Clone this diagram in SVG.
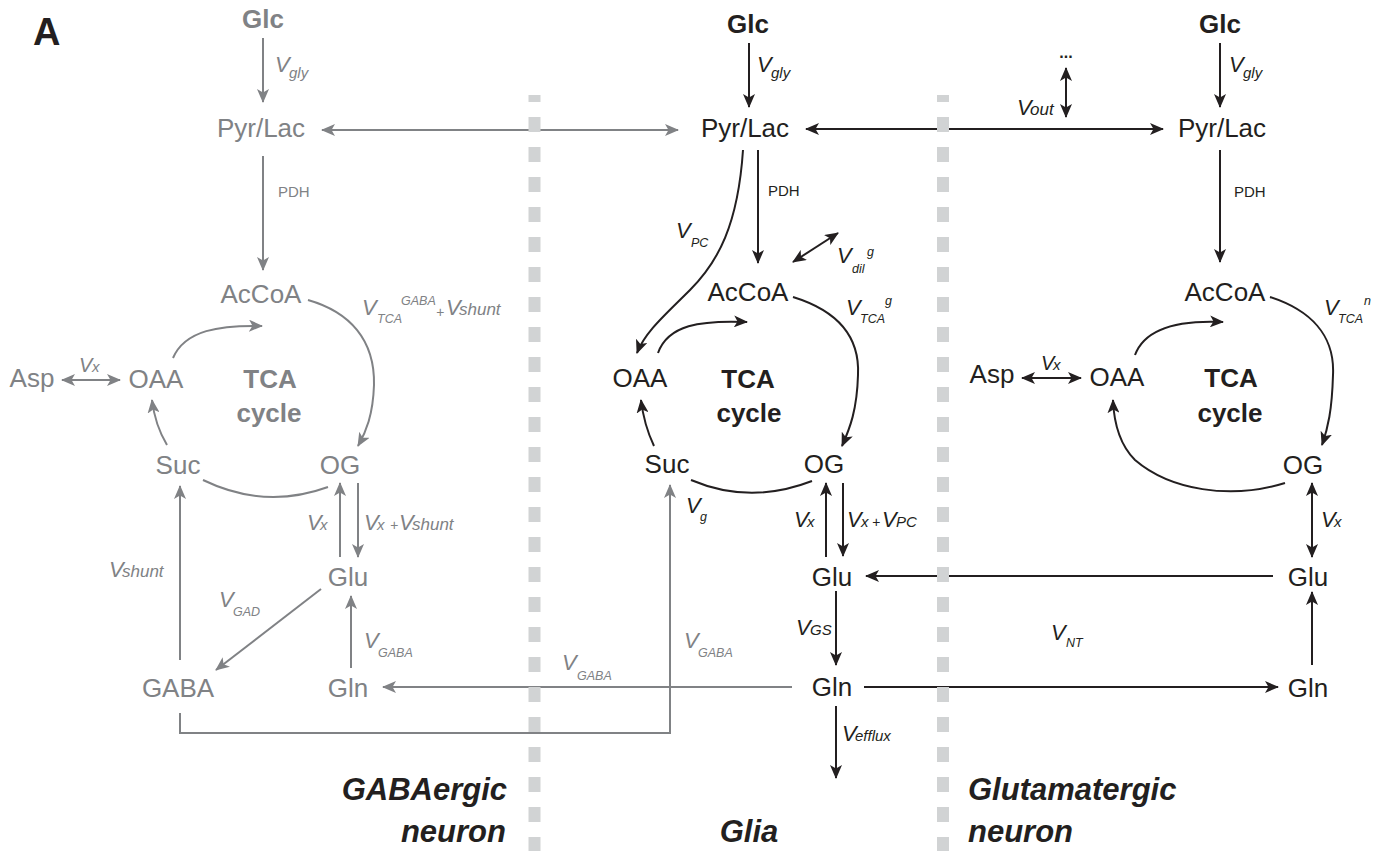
<svg xmlns="http://www.w3.org/2000/svg" width="1386" height="851" viewBox="0 0 1386 851">
<defs>
<style>
text{font-family:"Liberation Sans",Arial,sans-serif}
.n{font-size:26px;text-anchor:middle}
.b{font-weight:bold}
.g{fill:#808285}
.k{fill:#231f20}
.v{font-style:italic;font-size:22px}
.s{font-size:15px}
.ss{font-size:12.5px}
.pdh{font-size:15px}
.h{font-size:31px;font-weight:bold;font-style:italic;fill:#231f20}
.lg{fill:none;stroke:#808285;stroke-width:2}
.lk{fill:none;stroke:#231f20;stroke-width:2}
.dash{stroke:#d1d3d4;stroke-width:12;stroke-dasharray:15 15;stroke-dashoffset:8}
</style>
<marker id="ag" viewBox="0 0 14 12" refX="13" refY="6" markerWidth="14" markerHeight="12" markerUnits="userSpaceOnUse" orient="auto-start-reverse"><path d="M0,0 L14,6 L0,12 L3.5,6 Z" fill="#808285"/></marker>
<marker id="ak" viewBox="0 0 14 12" refX="13" refY="6" markerWidth="14" markerHeight="12" markerUnits="userSpaceOnUse" orient="auto-start-reverse"><path d="M0,0 L14,6 L0,12 L3.5,6 Z" fill="#231f20"/></marker>
</defs>
<rect width="1386" height="851" fill="#ffffff"/>
<text x="33" y="45" font-size="38" font-weight="bold" fill="#231f20">A</text>

<g id="connectors">
<!-- gray -->
<path class="lg" d="M263,38 V102" marker-end="url(#ag)"/>
<path class="lg" d="M322,130 H678" marker-start="url(#ag)" marker-end="url(#ag)"/>
<path class="lg" d="M263,156 V270" marker-end="url(#ag)"/>
<path class="lg" d="M308,300 C350,312 375,340 374,385 C373,415 366,432 358,446" marker-end="url(#ag)"/>
<path class="lg" d="M173,358 C185,330 220,325 262,326" marker-end="url(#ag)"/>
<path class="lg" d="M62,380 H120" marker-start="url(#ag)" marker-end="url(#ag)"/>
<path class="lg" d="M167,445 Q155,425 152,400" marker-end="url(#ag)"/>
<path class="lg" d="M328,487 Q265,510 203,480"/>
<path class="lg" d="M340,557 V483" marker-end="url(#ag)"/>
<path class="lg" d="M358,483 V557" marker-end="url(#ag)"/>
<path class="lg" d="M321,589 L216,670" marker-end="url(#ag)"/>
<path class="lg" d="M351,668 V596" marker-end="url(#ag)"/>
<path class="lg" d="M180,660 V486" marker-end="url(#ag)"/>
<path class="lg" d="M792,687 H383" marker-end="url(#ag)"/>
<path class="lg" d="M180,713 V733 H670 V485" marker-end="url(#ag)"/>
<!-- black -->
<path class="lk" d="M749,43 V107" marker-end="url(#ak)"/>
<path class="lk" d="M806,129 H1163" marker-start="url(#ak)" marker-end="url(#ak)"/>
<path class="lk" d="M1066,68 V117" marker-start="url(#ak)" marker-end="url(#ak)"/>
<path class="lk" d="M758,150 V263" marker-end="url(#ak)"/>
<path class="lk" d="M743,150 C738,225 718,262 690,290 C665,315 645,332 637,353" marker-end="url(#ak)"/>
<path class="lk" d="M793,262 L838,233" marker-start="url(#ak)" marker-end="url(#ak)"/>
<path class="lk" d="M793,297 C835,310 860,335 858,375 C857,410 850,428 842,446" marker-end="url(#ak)"/>
<path class="lk" d="M658,353 C668,325 700,320 747,322" marker-end="url(#ak)"/>
<path class="lk" d="M654,446 Q644,425 641,400" marker-end="url(#ak)"/>
<path class="lk" d="M812,481 Q750,505 691,480"/>
<path class="lk" d="M826,557 V483" marker-end="url(#ak)"/>
<path class="lk" d="M843,483 V556" marker-end="url(#ak)"/>
<path class="lk" d="M1273,576 H866" marker-end="url(#ak)"/>
<path class="lk" d="M836,591 V665" marker-end="url(#ak)"/>
<path class="lk" d="M864,687 H1278" marker-end="url(#ak)"/>
<path class="lk" d="M836,706 V778" marker-end="url(#ak)"/>
<path class="lk" d="M1220,43 V107" marker-end="url(#ak)"/>
<path class="lk" d="M1220,150 V262" marker-end="url(#ak)"/>
<path class="lk" d="M1270,297 C1310,310 1335,335 1333,375 C1332,410 1328,428 1322,445" marker-end="url(#ak)"/>
<path class="lk" d="M1135,355 C1145,328 1180,320 1223,322" marker-end="url(#ak)"/>
<path class="lk" d="M1022,378 H1081" marker-start="url(#ak)" marker-end="url(#ak)"/>
<path class="lk" d="M1285,483 C1230,500 1170,490 1135,460 C1120,445 1114,425 1113,400" marker-end="url(#ak)"/>
<path class="lk" d="M1312,483 V557" marker-start="url(#ak)" marker-end="url(#ak)"/>
<path class="lk" d="M1312,665 V592" marker-end="url(#ak)"/>
</g>

<g id="dividers">
<line class="dash" x1="534.5" y1="95" x2="534.5" y2="851"/>
<line class="dash" x1="943" y1="95" x2="943" y2="851"/>
</g>

<!-- GABAergic neuron (gray) -->
<g id="gaba-glc"><text class="n b g" x="263" y="28">Glc</text></g>
<g id="gaba-pyr"><text class="n g" x="261" y="137">Pyr/Lac</text></g>
<g id="gaba-accoa"><text class="n g" x="261" y="303">AcCoA</text></g>
<g id="gaba-asp"><text class="n g" x="32" y="387">Asp</text></g>
<g id="gaba-oaa"><text class="n g" x="156" y="388">OAA</text></g>
<g id="gaba-tca"><text class="n b g" x="270" y="388" font-size="25">TCA</text><text class="n b g" x="269" y="422" font-size="25">cycle</text></g>
<g id="gaba-suc"><text class="n g" x="178" y="474">Suc</text></g>
<g id="gaba-og"><text class="n g" x="340" y="474">OG</text></g>
<g id="gaba-glu"><text class="n g" x="348" y="586">Glu</text></g>
<g id="gaba-gaba"><text class="n g" x="178" y="697">GABA</text></g>
<g id="gaba-gln"><text class="n g" x="348" y="697">Gln</text></g>

<!-- Glia -->
<g id="glia-glc"><text class="n b k" x="748" y="33">Glc</text></g>
<g id="glia-pyr"><text class="n k" x="745" y="137">Pyr/Lac</text></g>
<g id="glia-accoa"><text class="n k" x="748" y="301">AcCoA</text></g>
<g id="glia-oaa"><text class="n k" x="640" y="387">OAA</text></g>
<g id="glia-tca"><text class="n b k" x="748" y="388" font-size="25">TCA</text><text class="n b k" x="749" y="422" font-size="25">cycle</text></g>
<g id="glia-suc"><text class="n k" x="667" y="473">Suc</text></g>
<g id="glia-og"><text class="n k" x="824" y="473">OG</text></g>
<g id="glia-glu"><text class="n k" x="832" y="586">Glu</text></g>
<g id="glia-gln"><text class="n k" x="832" y="696">Gln</text></g>

<!-- Glutamatergic neuron -->
<g id="glut-glc"><text class="n b k" x="1220" y="33">Glc</text></g>
<g id="glut-pyr"><text class="n k" x="1222" y="137">Pyr/Lac</text></g>
<g id="glut-accoa"><text class="n k" x="1225" y="301">AcCoA</text></g>
<g id="glut-asp"><text class="n k" x="992" y="383">Asp</text></g>
<g id="glut-oaa"><text class="n k" x="1117" y="386">OAA</text></g>
<g id="glut-tca"><text class="n b k" x="1231" y="387" font-size="25">TCA</text><text class="n b k" x="1230" y="422" font-size="25">cycle</text></g>
<g id="glut-og"><text class="n k" x="1303" y="474">OG</text></g>
<g id="glut-glu"><text class="n k" x="1308" y="586">Glu</text></g>
<g id="glut-gln"><text class="n k" x="1308" y="697">Gln</text></g>
<g id="glut-out"><text x="1066" y="58" font-size="16" font-weight="bold" text-anchor="middle" fill="#231f20">...</text></g>

<g id="labels">
<!-- gray labels -->
<text class="v g"><tspan x="275" y="72">V</tspan><tspan class="s" x="289" y="78">gly</tspan></text>
<text class="pdh g" x="278" y="197">PDH</text>
<text class="v g"><tspan x="362" y="315">V</tspan><tspan class="ss" x="377" y="323">TCA</tspan><tspan class="ss" x="401" y="305">GABA</tspan><tspan font-size="14" x="436" y="317">+</tspan><tspan x="446" y="315">V</tspan><tspan font-size="17" x="459" y="315">shunt</tspan></text>
<text class="v g"><tspan x="79" y="372" font-size="20">V</tspan><tspan class="s" x="92" y="372">x</tspan></text>
<text class="v g"><tspan x="307" y="530">V</tspan><tspan class="s" x="320" y="530">x</tspan></text>
<text class="v g"><tspan x="364" y="530">V</tspan><tspan class="s" x="377" y="530">x</tspan><tspan font-size="14" x="390" y="530">+</tspan><tspan x="399" y="530">V</tspan><tspan font-size="17" x="412" y="530">shunt</tspan></text>
<text class="v g"><tspan x="109" y="577">V</tspan><tspan font-size="17" x="122" y="577">shunt</tspan></text>
<text class="v g"><tspan x="219" y="607">V</tspan><tspan class="ss" x="233" y="616">GAD</tspan></text>
<text class="v g"><tspan x="364" y="648">V</tspan><tspan class="ss" x="378" y="657">GABA</tspan></text>
<text class="v g"><tspan x="562" y="670">V</tspan><tspan class="ss" x="577" y="680">GABA</tspan></text>
<text class="v g"><tspan x="684" y="648">V</tspan><tspan class="ss" x="698" y="657">GABA</tspan></text>
<!-- black labels -->
<text class="v k"><tspan x="757" y="72">V</tspan><tspan class="s" x="771" y="78">gly</tspan></text>
<text class="pdh k" x="768" y="196">PDH</text>
<text class="v k"><tspan x="676" y="238">V</tspan><tspan class="ss" x="691" y="247">PC</tspan></text>
<text class="v k"><tspan x="837" y="263">V</tspan><tspan class="ss" x="852" y="273">dil</tspan><tspan class="ss" x="867" y="256">g</tspan></text>
<text class="v k"><tspan x="846" y="315">V</tspan><tspan class="ss" x="860" y="323">TCA</tspan><tspan class="ss" x="885" y="305">g</tspan></text>
<text class="v k"><tspan x="686" y="513">V</tspan><tspan class="ss" x="700" y="521">g</tspan></text>
<text class="v k"><tspan x="794" y="527">V</tspan><tspan class="s" x="807" y="527">x</tspan></text>
<text class="v k"><tspan x="847" y="527">V</tspan><tspan class="s" x="861" y="527">x</tspan><tspan font-size="14" x="872" y="527">+</tspan><tspan x="882" y="527">V</tspan><tspan class="s" x="896" y="527">PC</tspan></text>
<text class="v k"><tspan x="796" y="635">V</tspan><tspan class="s" x="810" y="635">GS</tspan></text>
<text class="v k"><tspan x="842" y="741">V</tspan><tspan class="s" x="855" y="741">efflux</tspan></text>
<text class="v k"><tspan x="1017" y="115">V</tspan><tspan font-size="17" x="1030" y="115">out</tspan></text>
<text class="v k"><tspan x="1229" y="72">V</tspan><tspan class="s" x="1243" y="78">gly</tspan></text>
<text class="pdh k" x="1234" y="197">PDH</text>
<text class="v k"><tspan x="1324" y="315">V</tspan><tspan class="ss" x="1338" y="323">TCA</tspan><tspan class="ss" x="1364" y="305">n</tspan></text>
<text class="v k"><tspan x="1041" y="370" font-size="20">V</tspan><tspan class="s" x="1053" y="370">x</tspan></text>
<text class="v k"><tspan x="1321" y="527">V</tspan><tspan class="s" x="1334" y="527">x</tspan></text>
<text class="v k"><tspan x="1051" y="640">V</tspan><tspan class="ss" x="1066" y="647">NT</tspan></text>
</g>

<g id="compartments">
<text class="h" x="507" y="800" text-anchor="end">GABAergic</text>
<text class="h" x="506" y="842" text-anchor="end">neuron</text>
<text class="h" x="749" y="842" text-anchor="middle">Glia</text>
<text class="h" x="968" y="800">Glutamatergic</text>
<text class="h" x="968" y="842">neuron</text>
</g>
</svg>
